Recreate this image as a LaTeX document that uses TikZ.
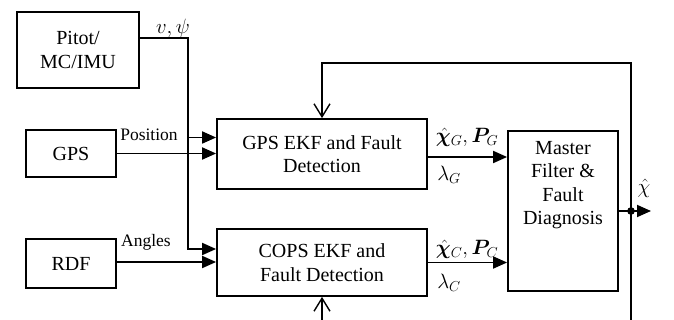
\documentclass[tikz,border=0pt]{standalone}
\usepackage{amsmath,bm}
\usepackage{fontspec}
\setmainfont{Liberation Serif}
\usetikzlibrary{arrows.meta}
\begin{document}
\begin{tikzpicture}[x=1pt,y=-1pt,line width=1.8pt,
  box/.style={draw,rectangle,inner sep=0pt,align=center,font=\fontsize{20}{23.5}\selectfont},
  arr/.style={-{Triangle[length=14pt,width=12pt]}},
  oarr/.style={-{Straight Barb[length=13pt,width=16pt,line width=1.4pt]}},
  lab/.style={inner sep=0pt,font=\fontsize{17.5}{20}\selectfont},
  mlab/.style={inner sep=0pt,font=\fontsize{20}{22}\selectfont}]
\useasboundingbox (0,0) rectangle (674,320);
% boxes
\node[box,minimum width=122pt,minimum height=76pt] (pitot) at (78,50) {Pitot/\\MC/IMU};
\node[box,minimum width=90pt,minimum height=47pt] (gpsbox) at (71,153.5) {GPS};
\node[box,minimum width=90pt,minimum height=49pt] (rdf) at (71,263.5) {RDF};
\node[box,minimum width=210pt,minimum height=70pt] (gps) at (322,154) {GPS EKF and Fault\\Detection};
\node[box,minimum width=210pt,minimum height=67pt] (cops) at (322,262.5) {COPS EKF and\\Fault Detection};
\node[box,minimum width=110pt,minimum height=160pt] (master) at (563,211) {};
\node[box,draw=none] (mtext) at (563,185) {Master\\Filter \&\\Fault\\Diagnosis};
% coordinates
\coordinate (vtop) at (188,38);
\coordinate (vbot) at (188,249);
\coordinate (vmid) at (188,137.5);
\coordinate (rdfy) at (188,262);
\coordinate (gout) at (427,157);
\coordinate (cout) at (427,262.5);
\coordinate (fright) at (631,63);
\coordinate (fbot) at (631,320);
\coordinate (bbot) at (322,320);
\coordinate (dot) at (631,211);
\coordinate (outc) at (651,211);
% connectors
\draw[arr] (pitot.east |- vtop) -- (vtop) -- (vbot) -- (vbot -| cops.west);
\draw[arr] (vmid) -- (vmid -| gps.west);
\draw[arr] (gpsbox.east) -- (gpsbox.east -| gps.west);
\draw[arr] (rdf.east |- rdfy) -- (rdfy -| cops.west);
\draw[arr] (gout) -- (gout -| master.west);
\draw[arr] (cout) -- (cout -| master.west);
\draw[oarr] (fbot) -- (fright) -- (gps.north |- fright) -- (gps.north);
\draw[oarr] (bbot) -- (cops.south);
\draw (master.east) -- (dot);
\fill (dot) circle (3.8pt);
\draw[arr] (dot) -- (outc);
% labels
\node[mlab] (lv) at (173,28) {$v,\psi$};
\node[lab] (lpos) at (149,135) {Position};
\node[lab] (lang) at (146,242) {Angles};
\node[mlab] (lg) at (467,137) {$\hat{\bm{\chi}}_G,\bm{P}_G$};
\node[mlab] (llg) at (449,175) {$\lambda_G$};
\node[mlab] (lc) at (467,249) {$\hat{\bm{\chi}}_C,\bm{P}_C$};
\node[mlab] (llc) at (449,283) {$\lambda_C$};
\node[mlab] (lout) at (644,188) {$\hat{\chi}$};
\end{tikzpicture}
\end{document}
